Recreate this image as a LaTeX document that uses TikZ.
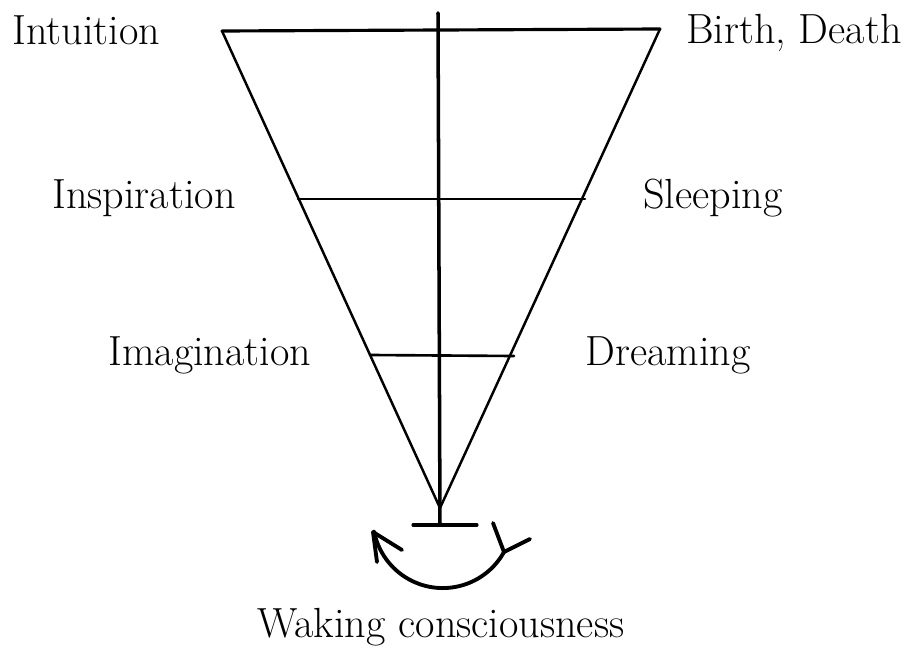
\documentclass[tikz,border=0pt]{standalone}
\usepackage{tikz}
\usetikzlibrary{arrows.meta,positioning}

\begin{document}
\begin{tikzpicture}[x=0.02cm, y=-0.02cm, line cap=round, line join=round,
  lbl/.style={inner sep=0pt, font=\fontsize{24}{28}\selectfont},
  rung/.style={line width=1.5pt},
  turn/.style={line width=2.2pt}]
\useasboundingbox (0,0) rectangle (914,659);
\coordinate (TL) at (222,31);
\coordinate (TR) at (660,29);
\coordinate (A) at (440,508);
\coordinate (T) at (438,13);
\coordinate (F) at (440,525);
\coordinate (L1) at (298,199);
\coordinate (R1) at (585,199);
\coordinate (L2) at (370,355);
\coordinate (R2) at (514,356);
\coordinate (B1) at (413,525);
\coordinate (B2) at (477,525);
\coordinate (S) at (504,552);
\coordinate (E) at (373,532);
\coordinate (Sa) at (493,523);
\coordinate (Sb) at (530,539);
\coordinate (Ea) at (377,562);
\coordinate (Eb) at (402,550);
\node[lbl, anchor=base west] (Int) at (12,45) {Intuition};
\node[lbl, anchor=base east] (BD) at (902,44) {Birth, Death};
\node[lbl, anchor=base west] (Insp) at (52,208) {Inspiration};
\node[lbl, anchor=base west] (Sl) at (643,208) {Sleeping};
\node[lbl, anchor=base west] (Im) at (108,365) {Imagination};
\node[lbl, anchor=base west] (Dr) at (585,365) {Dreaming};
\node[lbl, anchor=base] (Wk) at (441,637) {Waking consciousness};
\draw[line width=1.4pt] (TL) -- (A) -- (TR);
\draw[line width=1.8pt] (TL) -- (TR);
\draw[line width=2pt] (T) -- (F);
\draw[rung] (L1) -- (R1);
\draw[rung] (L2) -- (R2);
\draw[line width=1.8pt] (B1) -- (B2);
% turning arrow under the apex
\draw[turn] (S) arc[start angle=-29, end angle=-169, radius=1.4cm];
\draw[turn] (Ea) -- (E) -- (Eb);
\draw[turn] (Sa) -- (S) -- (Sb);
\end{tikzpicture}
\end{document}
